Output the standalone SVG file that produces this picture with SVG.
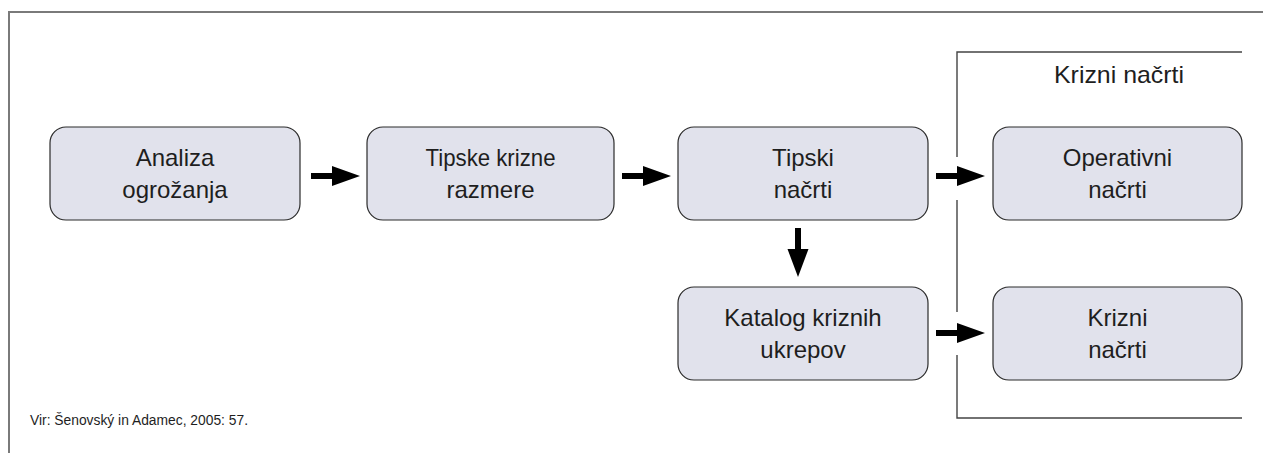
<svg xmlns="http://www.w3.org/2000/svg" width="1263" height="453" viewBox="0 0 1263 453">
<style>
.box{fill:#e1e2ec;stroke:#2b2b2b;stroke-width:1.2}
.t{font-family:"Liberation Sans",Arial,sans-serif;font-size:24px;fill:#1e1e1e;text-anchor:middle}
.src{font-family:"Liberation Sans",Arial,sans-serif;font-size:14px;fill:#1e1e1e}
.frame{fill:none;stroke:#7a7a7a;stroke-width:2}
.br{fill:none;stroke:#444;stroke-width:1.4}
.arr{fill:#000;stroke:none}
</style>
<rect x="0" y="0" width="1263" height="453" fill="#fff"/>
<path class="frame" d="M9,453 V12 H1263"/>
<g id="bracket">
<path class="br" d="M957,157 V52 H1242"/>
<path class="br" d="M957,200 V312"/>
<path class="br" d="M957,355 V418 H1242"/>
<text class="t" x="1119" y="83" textLength="130" lengthAdjust="spacingAndGlyphs">Krizni načrti</text>
</g>
<g id="n1"><rect class="box" x="50" y="127" width="250" height="93" rx="16"/><text class="t" x="175" y="166">Analiza</text><text class="t" x="175" y="198">ogrožanja</text></g>
<g id="n2"><rect class="box" x="367" y="127" width="247" height="93" rx="16"/><text class="t" x="490.5" y="166" textLength="130" lengthAdjust="spacingAndGlyphs">Tipske krizne</text><text class="t" x="490.5" y="198">razmere</text></g>
<g id="n3"><rect class="box" x="678" y="127" width="250" height="93" rx="16"/><text class="t" x="803" y="166">Tipski</text><text class="t" x="803" y="198">načrti</text></g>
<g id="n4"><rect class="box" x="993" y="127" width="249" height="93" rx="16"/><text class="t" x="1117.5" y="166">Operativni</text><text class="t" x="1117.5" y="198">načrti</text></g>
<g id="n5"><rect class="box" x="678" y="287" width="250" height="93" rx="16"/><text class="t" x="803" y="326">Katalog kriznih</text><text class="t" x="803" y="358">ukrepov</text></g>
<g id="n6"><rect class="box" x="993" y="287" width="249" height="93" rx="16"/><text class="t" x="1117.5" y="326">Krizni</text><text class="t" x="1117.5" y="358">načrti</text></g>
<g id="connectors">
<path class="arr" d="M311,173 H332 V166 L360,176 L332,186 V179 H311 Z"/>
<path class="arr" d="M622,173 H643 V166 L671,176 L643,186 V179 H622 Z"/>
<path class="arr" d="M936,173 H957 V166 L985,176 L957,186 V179 H936 Z"/>
<path class="arr" d="M936,330 H957 V323 L985,333 L957,343 V336 H936 Z"/>
<path class="arr" d="M795,228 V249 H787.5 L798,277 L808.5,249 H801 V228 Z"/>
</g>
<text class="src" x="30" y="425" textLength="218" lengthAdjust="spacingAndGlyphs">Vir: Šenovský in Adamec, 2005: 57.</text>
</svg>
